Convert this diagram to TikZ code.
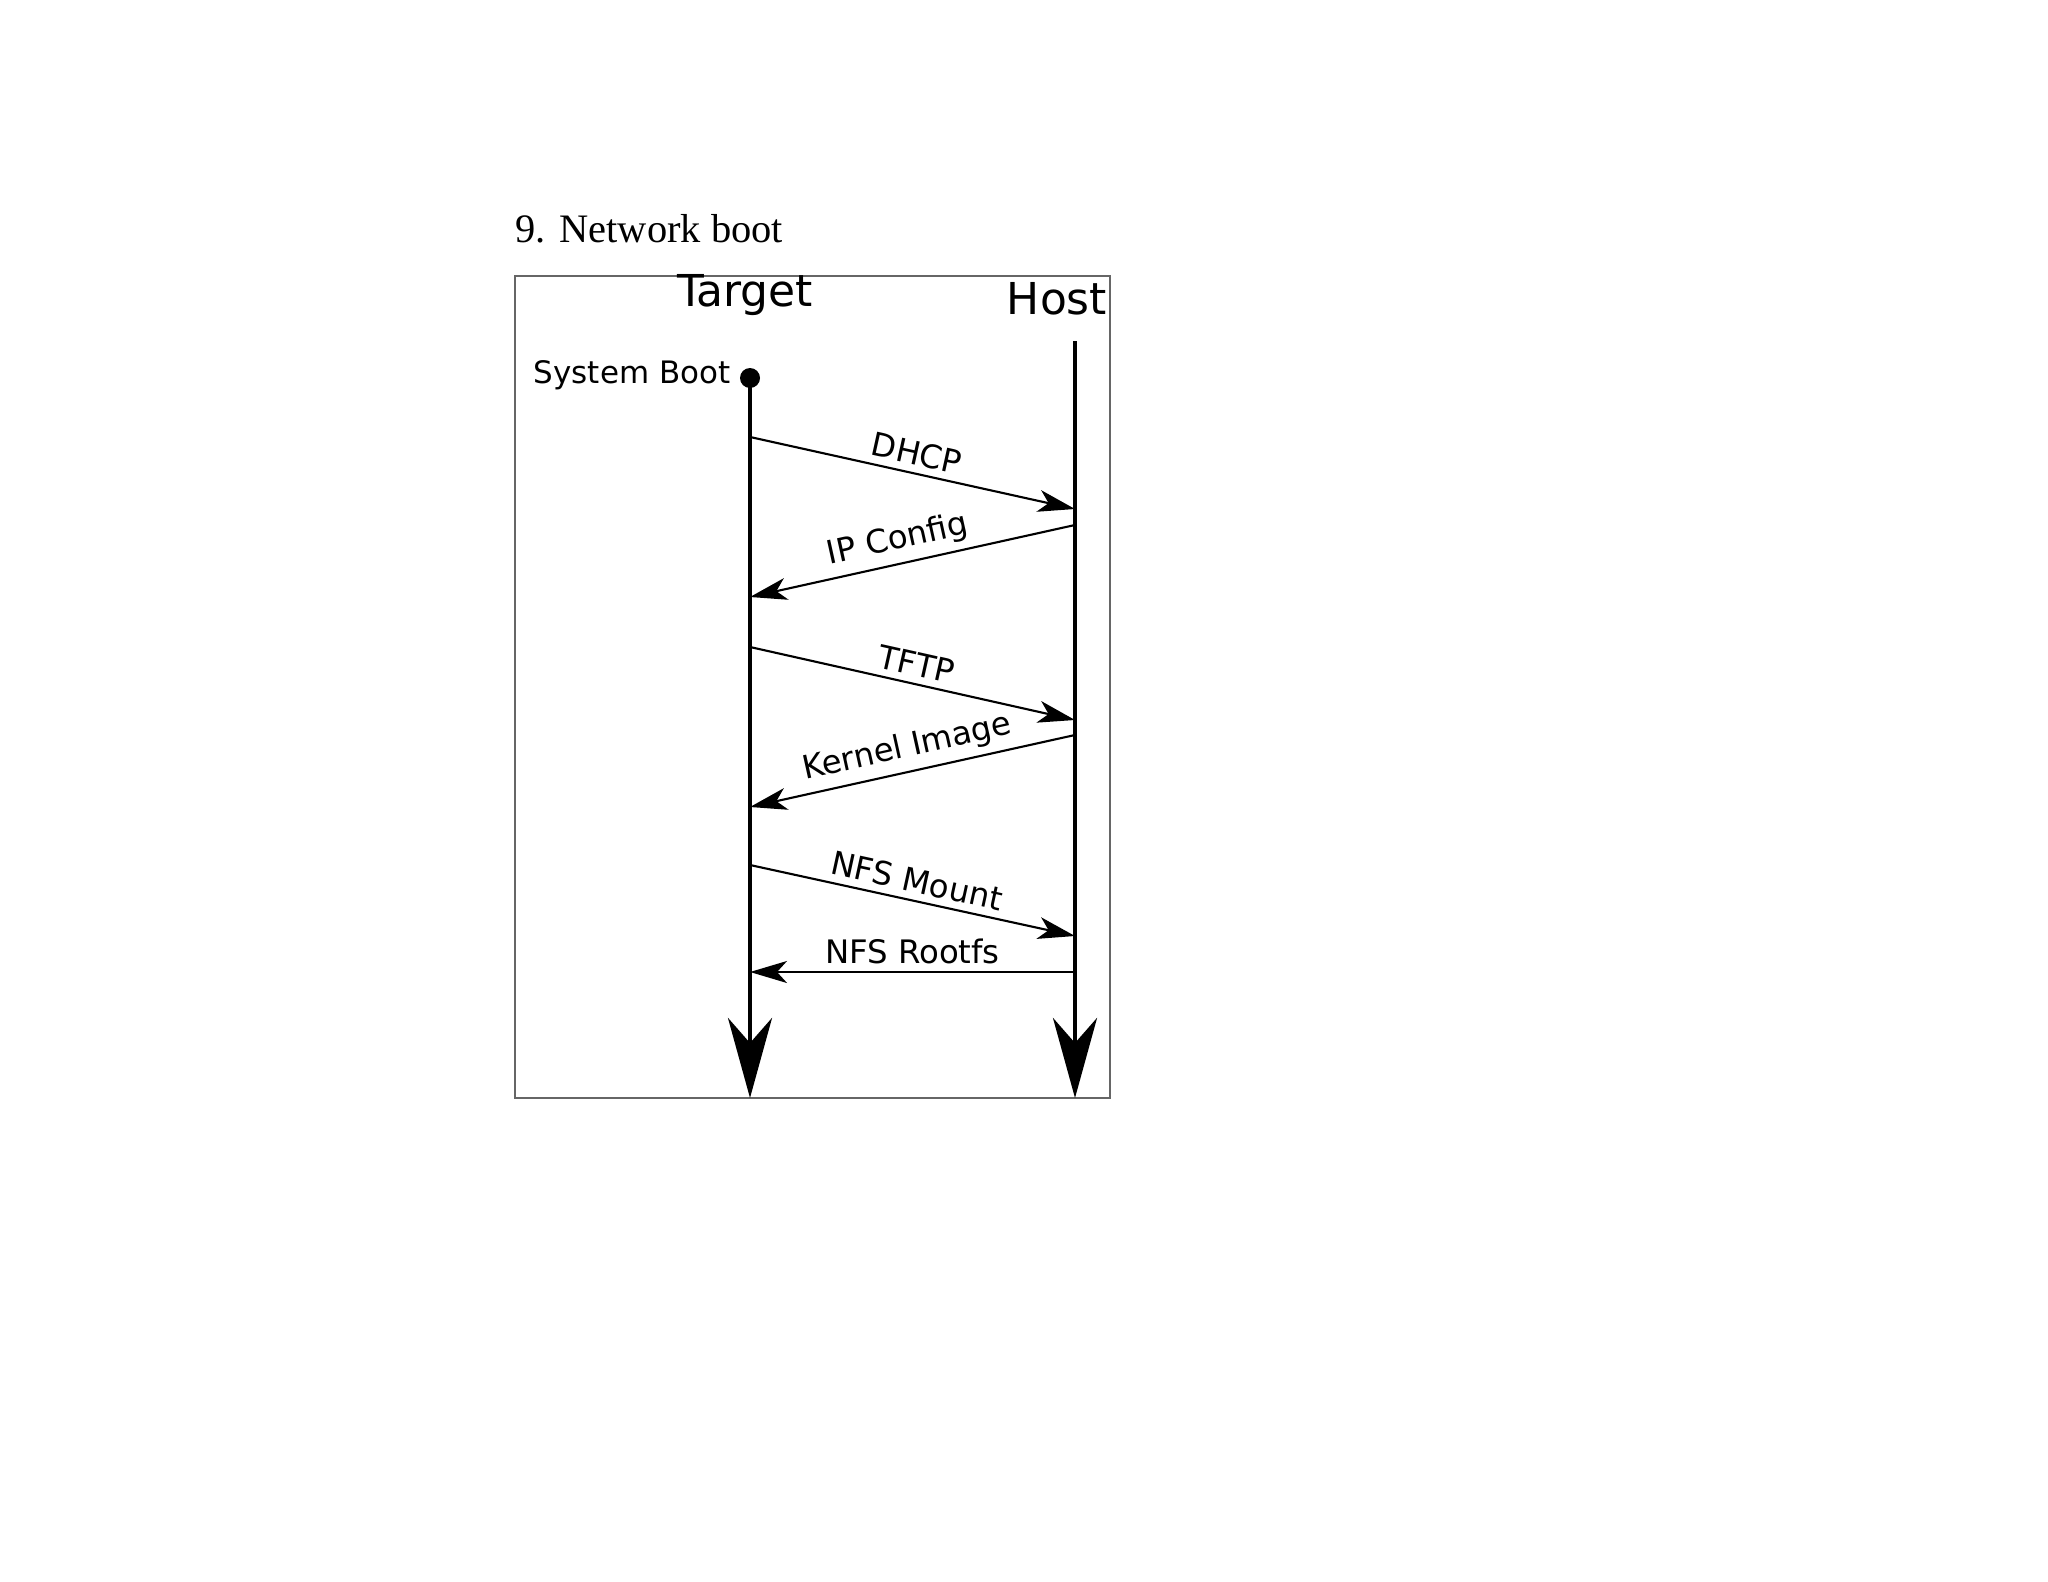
\documentclass[tikz,border=0pt]{standalone}
\usepackage{fontspec}
\setmainfont{Liberation Serif}
\newfontfamily\djsans{DejaVu Sans}
\usetikzlibrary{arrows.meta}
\begin{document}
\begin{tikzpicture}[x=0.01cm,y=-0.01cm,
  life/.style={line width=1.2pt,-{Stealth[length=0.8cm,width=0.44cm,inset=0.25cm]}},
  msg/.style={line width=0.6pt,-{Stealth[length=0.37cm,width=0.22cm,inset=0.1cm]}},
  lbl/.style={font=\djsans\fontsize{9.2}{11}\selectfont,sloped,above,inner sep=2pt},
  hdr/.style={font=\djsans\fontsize{12.5}{15}\selectfont,inner sep=0pt}]
\useasboundingbox (0,0) rectangle (2048,1582);
\node[anchor=base west,font=\fontsize{11.5}{14}\selectfont,inner sep=0pt] (title) at (515,243) {9. Network boot};
\draw[gray!80!black,line width=0.6pt] (515,276) rectangle (1110,1098);
\node[hdr] (tgt) at (745,295) {Target};
\node[hdr] (host) at (1057,299) {Host};
\coordinate (t0) at (750,378);
\coordinate (t1) at (750,1098);
\coordinate (h0) at (1075,341);
\coordinate (h1) at (1075,1098);
\fill (t0) circle (10);
\node[anchor=east,font=\djsans\fontsize{8.8}{11}\selectfont,inner sep=0pt] (sb) at (731,375) {System Boot};
\draw[life] (t0) -- (t1);
\draw[life] (h0) -- (h1);
\coordinate (a1) at (750,437); \coordinate (b1) at (1075,509);
\coordinate (a2) at (1075,525); \coordinate (b2) at (750,597);
\coordinate (a3) at (750,647); \coordinate (b3) at (1075,720);
\coordinate (a4) at (1075,735); \coordinate (b4) at (750,807);
\coordinate (a5) at (750,865); \coordinate (b5) at (1075,936);
\coordinate (a6) at (750,972); \coordinate (b6) at (1075,972);
\draw[msg] (a1) -- node[lbl]{DHCP} (b1);
\draw[msg] (a2) -- node[lbl,pos=0.53]{IP Config} (b2);
\draw[msg] (a3) -- node[lbl]{TFTP} (b3);
\draw[msg] (a4) -- node[lbl]{Kernel Image} (b4);
\draw[msg] (a5) -- node[lbl]{NFS Mount} (b5);
\draw[msg,{Stealth[length=0.37cm,width=0.22cm,inset=0.1cm]}-] (a6) -- node[lbl]{NFS Rootfs} (b6);
\end{tikzpicture}
\end{document}
